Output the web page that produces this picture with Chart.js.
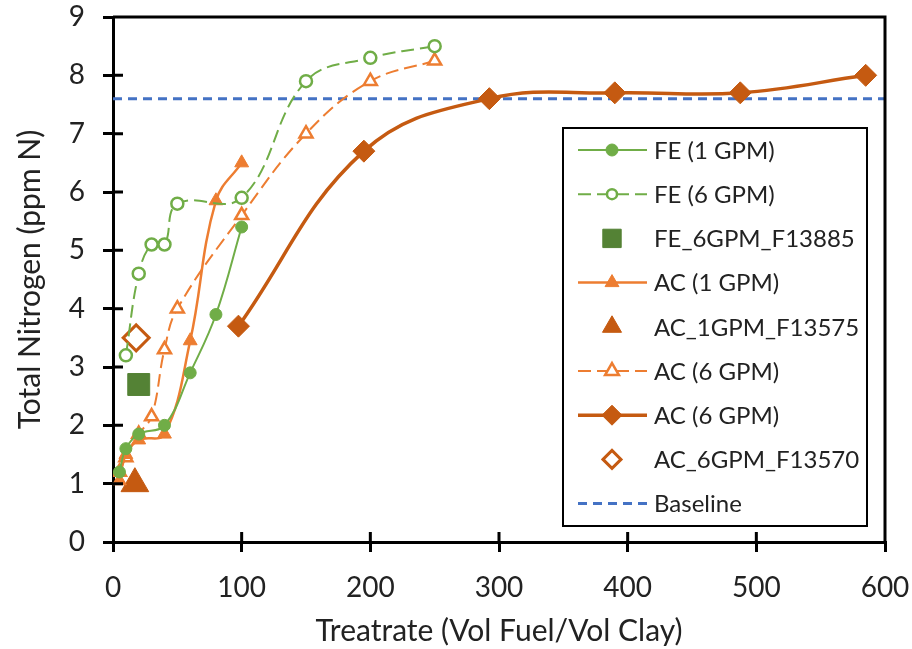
<!DOCTYPE html>
<html>
<head>
<meta charset="utf-8">
<script src="https://cdn.jsdelivr.net/npm/chart.js@4.4.1/dist/chart.umd.min.js"></script>
<style>
  html, body { margin: 0; padding: 0; background: #fff; }
</style>
</head>
<body>
<canvas id="nitrogenChart" width="912" height="649"></canvas>
<script>
const green = "#70AD47";
const darkGreen = "#548235";
const orange = "#ED7D31";
const darkOrange = "#C55A11";
const blue = "#4472C4";
const fontName = "Lato, 'Open Sans', sans-serif";

// FE (1 GPM)
const fe1X = [5, 10, 20, 40, 60, 80, 100];
const fe1Y = [1.2, 1.6, 1.85, 2.0, 2.9, 3.9, 5.4];
// FE (6 GPM)
const fe6X = [10, 20, 30, 40, 50, 100, 150, 200, 250];
const fe6Y = [3.2, 4.6, 5.1, 5.1, 5.8, 5.9, 7.9, 8.3, 8.5];
// FE_6GPM_F13885
const fe13885X = [20];
const fe13885Y = [2.7];
// AC (1 GPM)
const ac1X = [5, 10, 20, 40, 60, 80, 100];
const ac1Y = [1.05, 1.5, 1.75, 1.85, 3.45, 5.85, 6.5];
// AC_1GPM_F13575
const ac13575X = [17];
const ac13575Y = [1.0];
// AC (6 GPM) open triangles
const ac6X = [5, 10, 20, 30, 40, 50, 100, 150, 200, 250];
const ac6Y = [1.2, 1.45, 1.85, 2.15, 3.3, 4.0, 5.6, 7.0, 7.9, 8.25];
// AC (6 GPM) diamonds
const ac6dX = [97.5, 195, 292.5, 390, 487.5, 585];
const ac6dY = [3.7, 6.7, 7.6, 7.7, 7.7, 8.0];
// AC_6GPM_F13570
const ac13570X = [18];
const ac13570Y = [3.5];
// Baseline
const baseX = [0, 600];
const baseY = [7.6, 7.6];

const xTicks = [0, 100, 200, 300, 400, 500, 600];
const yTicks = [0, 1, 2, 3, 4, 5, 6, 7, 8, 9];

function pts(xs, ys) {
    return xs.map((x, i) => ({ x: x, y: ys[i] }));
}

const datasets = [
    {
        label: 'FE (1 GPM)', data: pts(fe1X, fe1Y),
        borderColor: green, backgroundColor: green, borderWidth: 2,
        pointStyle: 'circle', pointRadius: 6, pointBorderWidth: 1,
        tension: 0.4, legendRadius: 6
    },
    {
        label: 'FE (6 GPM)', data: pts(fe6X, fe6Y),
        borderColor: green, backgroundColor: '#fff', borderWidth: 2, borderDash: [13, 6],
        pointStyle: 'circle', pointRadius: 6, pointBorderWidth: 2.5,
        tension: 0.4, legendRadius: 5
    },
    {
        label: 'FE_6GPM_F13885', data: pts(fe13885X, fe13885Y), showLine: false,
        borderColor: darkGreen, backgroundColor: darkGreen,
        pointStyle: 'rect', pointRadius: 15.5, pointBorderWidth: 1, legendRadius: 13
    },
    {
        label: 'AC (1 GPM)', data: pts(ac1X, ac1Y),
        borderColor: orange, backgroundColor: orange, borderWidth: 2.5,
        pointStyle: 'triangle', pointRadius: 8, pointBorderWidth: 1,
        tension: 0.4, legendRadius: 8
    },
    {
        label: 'AC_1GPM_F13575', data: pts(ac13575X, ac13575Y), showLine: false,
        borderColor: darkOrange, backgroundColor: darkOrange,
        pointStyle: 'triangle', pointRadius: 16, pointBorderWidth: 1, legendRadius: 11
    },
    {
        label: 'AC (6 GPM)', data: pts(ac6X, ac6Y),
        borderColor: orange, backgroundColor: '#fff', borderWidth: 2, borderDash: [13, 6],
        pointStyle: 'triangle', pointRadius: 7.5, pointBorderWidth: 2.5,
        tension: 0.4, legendRadius: 8
    },
    {
        label: 'AC (6 GPM)', data: pts(ac6dX, ac6dY),
        borderColor: darkOrange, backgroundColor: darkOrange, borderWidth: 3.5,
        pointStyle: 'rectRot', pointRadius: 11, pointBorderWidth: 1,
        tension: 0.4, legendRadius: 10
    },
    {
        label: 'AC_6GPM_F13570', data: pts(ac13570X, ac13570Y), showLine: false,
        borderColor: darkOrange, backgroundColor: '#fff',
        pointStyle: 'rectRot', pointRadius: 13, pointBorderWidth: 3, legendRadius: 9
    },
    {
        label: 'Baseline', data: pts(baseX, baseY),
        borderColor: blue, backgroundColor: blue, borderWidth: 3, borderDash: [9, 6],
        pointRadius: 0, legendRadius: 0
    }
];

// frame on top/right plus tick marks that cross into the plot
const frame = {
    id: 'frame',
    afterDatasetsDraw(chart) {
        const ctx = chart.ctx;
        const a = chart.chartArea;
        ctx.save();
        ctx.strokeStyle = '#000';
        ctx.lineWidth = 3;
        ctx.beginPath();
        ctx.moveTo(a.left, a.top);
        ctx.lineTo(a.right, a.top);
        ctx.lineTo(a.right, a.bottom);
        ctx.stroke();
        ctx.beginPath();
        xTicks.slice(1, -1).forEach(v => {
            const px = chart.scales.x.getPixelForValue(v);
            ctx.moveTo(px, a.bottom);
            ctx.lineTo(px, a.bottom - 10);
        });
        yTicks.slice(1, -1).forEach(v => {
            const py = chart.scales.y.getPixelForValue(v);
            ctx.moveTo(a.left, py);
            ctx.lineTo(a.left + 10, py);
        });
        ctx.stroke();
        ctx.restore();
    }
};

// legend box inside the plot, like the Excel one
const legendBox = {
    id: 'legendBox',
    afterDraw(chart) {
        const ctx = chart.ctx;
        const bx = 563, by = 128, bw = 304, bh = 398;
        const rowTop = 150, rowGap = 44.2;
        ctx.save();
        ctx.fillStyle = '#fff';
        ctx.fillRect(bx, by, bw, bh);
        ctx.strokeStyle = '#000';
        ctx.lineWidth = 2;
        ctx.strokeRect(bx, by, bw, bh);
        chart.data.datasets.forEach((ds, i) => {
            const y = rowTop + i * rowGap;
            if (ds.showLine !== false) {
                ctx.save();
                ctx.strokeStyle = ds.borderColor;
                ctx.lineWidth = ds.borderWidth;
                ctx.setLineDash(ds.borderDash || []);
                ctx.beginPath();
                ctx.moveTo(578, y);
                ctx.lineTo(647, y);
                ctx.stroke();
                ctx.restore();
            }
            if (ds.legendRadius > 0) {
                ctx.save();
                ctx.fillStyle = ds.backgroundColor;
                ctx.strokeStyle = ds.borderColor;
                ctx.lineWidth = ds.pointBorderWidth;
                Chart.helpers.drawPoint(ctx, {
                    pointStyle: ds.pointStyle,
                    radius: ds.legendRadius,
                    rotation: 0,
                    borderWidth: ds.pointBorderWidth
                }, 612, y);
                ctx.restore();
            }
            ctx.fillStyle = '#222';
            ctx.font = '24px ' + fontName;
            ctx.textBaseline = 'middle';
            ctx.fillText(ds.label, 654, y + 1);
        });
        ctx.restore();
    }
};

const nitrogenChart = new Chart(document.getElementById('nitrogenChart'), {
    type: 'line',
    data: { datasets: datasets },
    options: {
        responsive: false,
        animation: false,
        layout: { padding: { left: 8, right: 27, top: 2, bottom: 0 } },
        plugins: {
            legend: { display: false },
            tooltip: { enabled: false }
        },
        scales: {
            x: {
                type: 'linear', min: 0, max: 600,
                afterBuildTicks: scale => { scale.ticks = xTicks.map(v => ({ value: v })); },
                afterFit: scale => { scale.height = 107; scale.paddingRight = 0; scale.paddingLeft = 0; },
                border: { color: '#000', width: 3 },
                grid: { drawOnChartArea: false, drawTicks: true, tickLength: 10, color: '#000', lineWidth: 3 },
                ticks: { color: '#222', font: { family: fontName, size: 28 }, padding: 19, maxRotation: 0 },
                title: {
                    display: true, text: 'Treatrate (Vol Fuel/Vol Clay)', color: '#222',
                    font: { family: fontName, size: 30 }, padding: { top: 2, bottom: 0 }
                }
            },
            y: {
                type: 'linear', min: 0, max: 9,
                afterBuildTicks: scale => { scale.ticks = yTicks.map(v => ({ value: v })); },
                afterFit: scale => { scale.width = 105; scale.paddingTop = 15; scale.paddingBottom = 0; },
                border: { color: '#000', width: 3 },
                grid: { drawOnChartArea: false, drawTicks: true, tickLength: 10, color: '#000', lineWidth: 3 },
                ticks: { color: '#222', font: { family: fontName, size: 28 }, padding: 18 },
                title: {
                    display: true, text: 'Total Nitrogen (ppm N)', color: '#222',
                    font: { family: fontName, size: 30 }, padding: { bottom: 2 }
                }
            }
        }
    },
    plugins: [frame, legendBox]
});
</script>
</body>
</html>
